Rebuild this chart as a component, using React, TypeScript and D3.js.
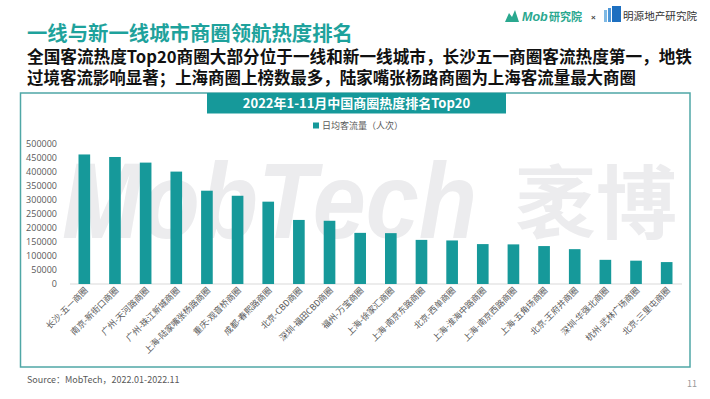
import { useMemo } from 'react';
import * as d3 from 'd3';

const categories = [
  '长沙-五一商圈',
  '南京-新街口商圈',
  '广州-天河路商圈',
  '广州-珠江新城商圈',
  '上海-陆家嘴张杨路商圈',
  '重庆-观音桥商圈',
  '成都-春熙路商圈',
  '北京-CBD商圈',
  '深圳-福田CBD商圈',
  '福州-万宝商圈',
  '上海-徐家汇商圈',
  '上海-南京东路商圈',
  '北京-西单商圈',
  '上海-淮海中路商圈',
  '上海-南京西路商圈',
  '上海-五角场商圈',
  '北京-王府井商圈',
  '深圳-华强北商圈',
  '杭州-武林广场商圈',
  '北京-三里屯商圈',
];

const dailyFlow = [
  461000, 452000, 432000, 400000, 332000, 314000, 293000, 228000, 225000, 182000,
  181000, 157000, 155000, 142000, 141000, 135000, 124000, 86000, 83000, 78000,
];

const yTicks = d3.range(0, 500001, 50000);

const TEAL = '#16999a';
const CJK = '"Noto Sans CJK SC", "Noto Sans", sans-serif';

const W = 710;
const H = 399;

export default function App() {
  const x = useMemo(
    () => d3.scaleBand<string>().domain(categories).range([69, 682]).paddingInner(0.62).paddingOuter(0.31),
    []
  );
  const y = useMemo(() => d3.scaleLinear().domain([0, 500000]).range([284, 143.5]), []);

  return (
    <svg
      width={W}
      height={H}
      style={{ position: 'absolute', left: 0, top: 0, background: '#fff', fontFamily: CJK }}
    >
      {/* header logos */}
      <g>
        <path d="M505,22 L509,13 L512,17 L515,10 L519,22 Z" fill="#2aa88f" />
        <text x={522} y={21} fontSize={12.5} fontWeight={700} fontStyle="italic" fill="#2aa88f" fontFamily="Arial, sans-serif">
          Mob
        </text>
        <text x={549} y={21} fontSize={11} fontWeight={700} fill="#2aa88f">研究院</text>
        <text x={591} y={20} fontSize={8} fontWeight={700} fill="#444" fontFamily="Arial, sans-serif">×</text>
        <rect x={604} y={10} width={3} height={12} fill="#7fb9e4" />
        <rect x={608} y={8} width={3} height={14} fill="#4d97d8" />
        <rect x={612} y={6} width={9} height={16} fill="#1d6fc0" />
        <text x={623} y={20} fontSize={10.6} fill="#333">明源地产研究院</text>
      </g>

      {/* headline */}
      <text x={27} y={41} fontSize={20} fontWeight={700} fill="#1ea29c" textLength={326} lengthAdjust="spacingAndGlyphs">
        一线与新一线城市商圈领航热度排名
      </text>
      <text x={27} y={63} fontSize={16.5} fontWeight={700} fill="#111" textLength={665} lengthAdjust="spacingAndGlyphs">
        全国客流热度Top20商圈大部分位于一线和新一线城市，长沙五一商圈客流热度第一，地铁
      </text>
      <text x={27} y={84} fontSize={16.5} fontWeight={700} fill="#111" textLength={609} lengthAdjust="spacingAndGlyphs">
        过境客流影响显著；上海商圈上榜数最多，陆家嘴张杨路商圈为上海客流量最大商圈
      </text>

      {/* chart frame */}
      <rect x={20.5} y={93} width={669.5} height={274} fill="none" stroke="#4fa7a6" strokeWidth={1.5} />
      <rect x={207} y={93} width={299} height={20.5} fill={TEAL} />
      <text x={356.5} y={108} textAnchor="middle" fontSize={13} fontWeight={700} fill="#fff">
        2022年1-11月中国商圈热度排名Top20
      </text>

      {/* watermark */}
      <text
        transform="translate(62,238) scale(1,1.15)"
        fontSize={94}
        fontWeight={700}
        fontStyle="italic"
        fill="#ececee"
        fontFamily="Arial, 'Liberation Sans', sans-serif"
        textLength={415}
        lengthAdjust="spacingAndGlyphs"
      >
        MobTech
      </text>
      <text x={515} y={232} fontSize={80} fontWeight={700} fill="#ececee" textLength={162} lengthAdjust="spacingAndGlyphs">
        袤博
      </text>

      {/* legend */}
      <rect x={313} y={122.5} width={6} height={6} fill={TEAL} />
      <text x={322} y={128.5} fontSize={9} fill="#595959">日均客流量（人次）</text>

      {/* y axis */}
      {yTicks.map((t) => (
        <text key={t} x={57} y={y(t) + 3.2} textAnchor="end" fontSize={9} fill="#595959" fontFamily="'Open Sans', 'Noto Sans', sans-serif">
          {t}
        </text>
      ))}
      <line x1={70} x2={682} y1={y(0)} y2={y(0)} stroke="#d9d9d9" strokeWidth={1} />

      {/* bars */}
      {categories.map((c, i) => (
        <rect key={c} x={x(c)} y={y(dailyFlow[i])} width={x.bandwidth()} height={y(0) - y(dailyFlow[i])} fill={TEAL} />
      ))}

      {/* category labels */}
      {categories.map((c) => {
        const cx = (x(c) ?? 0) + x.bandwidth() / 2 + 4;
        return (
          <text
            key={c}
            transform={`translate(${cx},${291}) rotate(-45)`}
            textAnchor="end"
            fontSize={8.6}
            fill="#595959"
          >
            {c}
          </text>
        );
      })}

      {/* footer */}
      <text x={27} y={383} fontSize={9} fill="#595959">Source：MobTech，2022.01-2022.11</text>
      <text x={697} y={387} textAnchor="end" fontSize={9} fill="#999">11</text>
    </svg>
  );
}
